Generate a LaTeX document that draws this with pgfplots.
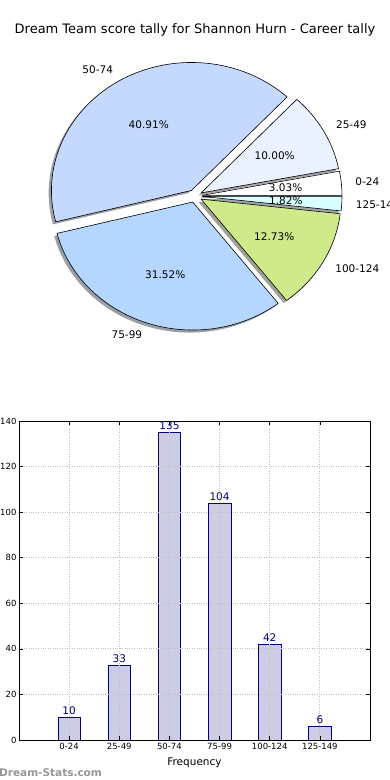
\documentclass[border=0pt]{standalone}
\usepackage{pgfplots}
\pgfplotsset{compat=1.18}
\usepackage{pgfplotstable}
\usepackage{fontspec}
\setmainfont{DejaVu Sans}
\definecolor{c0}{RGB}{255,255,255}
\definecolor{c1}{RGB}{234,241,255}
\definecolor{c2}{RGB}{197,217,255}
\definecolor{c3}{RGB}{181,214,255}
\definecolor{c4}{RGB}{206,234,139}
\definecolor{c5}{RGB}{216,255,255}
\definecolor{barfill}{RGB}{204,204,228}
\definecolor{navyc}{RGB}{0,0,128}
\definecolor{wm}{RGB}{150,150,150}
\newcommand\lbl{\fontsize{10.5}{12}\selectfont}
% #1 start count, #2 count, #3 explode, #4 colour
\newcommand\pieshadow[4]{%
  \fill[#4!30!black, fill opacity=0.5]
    (axis cs:{140*(-0.02+#3*cos((2*#1+#2)/330*180))},{128*(-0.02+#3*sin((2*#1+#2)/330*180))})
    -- (axis cs:{140*(-0.02+#3*cos((2*#1+#2)/330*180)+cos(#1/330*360))},{128*(-0.02+#3*sin((2*#1+#2)/330*180)+sin(#1/330*360))})
    arc[start angle={#1/330*360}, end angle={(#1+#2)/330*360}, x radius=140, y radius=128] -- cycle;}
% #1 start, #2 count, #3 explode, #4 colour, #5 label, #6 anchor, #7 pct
\newcommand\piewedge[7]{%
  \filldraw[fill=#4, draw=black, line width=0.6pt, line join=round]
    (axis cs:{140*#3*cos((2*#1+#2)/330*180)},{128*#3*sin((2*#1+#2)/330*180)})
    -- (axis cs:{140*(#3*cos((2*#1+#2)/330*180)+cos(#1/330*360))},{128*(#3*sin((2*#1+#2)/330*180)+sin(#1/330*360))})
    arc[start angle={#1/330*360}, end angle={(#1+#2)/330*360}, x radius=140, y radius=128] -- cycle;
  \node[anchor=#6, font=\lbl, inner sep=0pt] at (axis cs:{140*(#3+1.1)*cos((2*#1+#2)/330*180)},{128*(#3+1.1)*sin((2*#1+#2)/330*180)}) {#5};
  \node[font=\lbl, inner sep=0pt] at (axis cs:{140*(#3+0.6)*cos((2*#1+#2)/330*180)},{128*(#3+0.6)*sin((2*#1+#2)/330*180)}) {#7};}
\pgfplotstableread{
x count
0 10
1 33
2 135
3 104
4 42
5 6
}\tally
\begin{document}
\begin{tikzpicture}
\useasboundingbox (0,0) rectangle (390pt,780pt);
\node[font=\fontsize{13}{15}\selectfont] at (195pt,750pt) {Dream Team score tally for Shannon Hurn - Career tally};
% pie
\begin{axis}[
  x=1pt, y=1pt,
  xmin=-200, xmax=200, ymin=-180, ymax=180,
  hide axis, clip=false,
  anchor=center, at={(195pt,584pt)},
]
\pieshadow{0}{10}{0.05}{c0}
\pieshadow{10}{33}{0.05}{c1}
\pieshadow{43}{135}{0.05}{c2}
\pieshadow{178}{104}{0.05}{c3}
\pieshadow{282}{42}{0.05}{c4}
\pieshadow{324}{6}{0.05}{c5}
\piewedge{0}{10}{0.05}{c0}{0-24}{west}{3.03\%}
\piewedge{10}{33}{0.05}{c1}{25-49}{west}{10.00\%}
\piewedge{43}{135}{0.05}{c2}{50-74}{east}{40.91\%}
\piewedge{178}{104}{0.05}{c3}{75-99}{east}{31.52\%}
\piewedge{282}{42}{0.05}{c4}{100-124}{west}{12.73\%}
\piewedge{324}{6}{0.05}{c5}{125-149}{west}{1.82\%}
\end{axis}
% bars
\begin{axis}[
  at={(19pt,40pt)}, anchor=south west,
  width=351pt, height=319pt, scale only axis,
  xmin=-1, xmax=6, ymin=0, ymax=140,
  xtick={0,1,2,3,4,5},
  xticklabels={0-24,25-49,50-74,75-99,100-124,125-149},
  ytick={0,20,40,60,80,100,120,140},
  tick align=inside, major tick length=4pt,
  tick style={black, line width=0.5pt},
  axis line style={line width=0.8pt},
  grid=major, major grid style={gray!50, dotted, line width=0.8pt},
  axis on top,
  /pgf/number format/assume math mode=true,
  ticklabel style={font=\fontsize{8.5}{10}\selectfont},
  yticklabel style={xshift=1pt},
  xlabel={Frequency},
  xlabel style={font=\lbl, yshift=-1pt},
  clip=false,
]
\addplot[ybar, bar width=0.45, fill=barfill, draw=navyc, line width=0.6pt,
  nodes near coords,
  nodes near coords style={font=\fontsize{10.5}{12}\selectfont, text=navyc, inner sep=2pt}]
  table[x=x, y=count] {\tally};
\end{axis}
\node[anchor=base west, font=\bfseries\fontsize{10.5}{12}\selectfont, text=wm, inner sep=0pt] at (-1pt,3pt) {Dream-Stats.com};
\end{tikzpicture}
\end{document}
